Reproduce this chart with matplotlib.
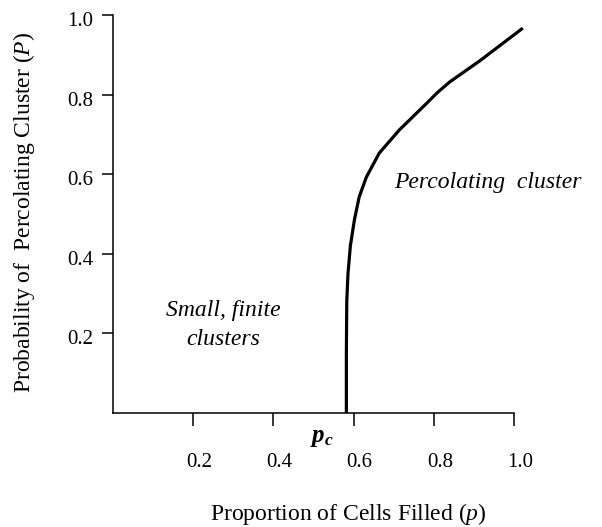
import matplotlib
matplotlib.use("Agg")
import matplotlib.pyplot as plt
from matplotlib.transforms import ScaledTranslation

# Curva de percolación (p, P)
p_vals = [0.582, 0.582, 0.583, 0.586, 0.592, 0.602, 0.614, 0.632, 0.664,
          0.714, 0.781, 0.810, 0.840, 0.915, 1.022]
P_vals = [0.000, 0.150, 0.280, 0.350, 0.420, 0.485, 0.543, 0.593, 0.653,
          0.711, 0.777, 0.806, 0.832, 0.885, 0.967]

x_ticks = [0.2, 0.4, 0.6, 0.8, 1.0]
x_labels = ["0.2", "0.4", "0.6", "0.8", "1.0"]
y_ticks = [0.2, 0.4, 0.6, 0.8, 1.0]
y_labels = ["0.2", "0.4", "0.6", "0.8", "1.0"]

plt.rcParams["font.family"] = "Liberation Serif"
plt.rcParams["mathtext.fontset"] = "custom"
plt.rcParams["mathtext.rm"] = "Liberation Serif"
plt.rcParams["mathtext.it"] = "Liberation Serif:italic"
plt.rcParams["mathtext.bf"] = "Liberation Serif:bold"
plt.rcParams["mathtext.bfit"] = "Liberation Serif:bold:italic"

fig = plt.figure(figsize=(6.02, 5.27), dpi=100)
ax = fig.add_axes([113 / 602, 114 / 527, 413 / 602, 398 / 527])

ax.plot(p_vals, P_vals, color="black", linewidth=2.3, clip_on=False,
        solid_capstyle="butt", solid_joinstyle="round")

ax.set_xlim(0, 1.03)
ax.set_ylim(0, 1.0)
for lado in ("top", "right"):
    ax.spines[lado].set_visible(False)
for lado in ("left", "bottom"):
    ax.spines[lado].set_linewidth(1.1)
ax.spines["bottom"].set_bounds(0, 1.0)

ax.set_xticks(x_ticks)
ax.set_xticklabels(x_labels)
ax.set_yticks(y_ticks)
ax.set_yticklabels(y_labels)
ax.tick_params(axis="x", direction="out", length=9, width=1.1, pad=20, labelsize=15)
ax.tick_params(axis="y", direction="out", length=8, width=1.1, pad=6, labelsize=15)

for lab in ax.get_xticklabels():
    lab.set_transform(lab.get_transform() + ScaledTranslation(0.06, 0, fig.dpi_scale_trans))
for lab in ax.get_yticklabels():
    lab.set_transform(lab.get_transform() + ScaledTranslation(0, -0.04, fig.dpi_scale_trans))

ax.set_xlabel("Proportion of Cells Filled ($p$)", fontsize=17)
ax.xaxis.set_label_coords(0.57, -0.222)
ax.set_ylabel("Probability of  Percolating Cluster ($P$)", fontsize=17)
ax.yaxis.set_label_coords(-0.185, 0.505)

ax.text(0.274, 0.22, "Small, finite\nclusters", fontsize=17, style="italic",
        ha="center", va="center", linespacing=1.5)
ax.text(0.70, 0.578, "Percolating  cluster", fontsize=17, style="italic",
        ha="left", va="center")
ax.text(0.522, -0.062, r"$\mathbfit{p}_{\mathbfit{c}}$", fontsize=18,
        ha="center", va="center")

fig.savefig("out.png", dpi=100)
